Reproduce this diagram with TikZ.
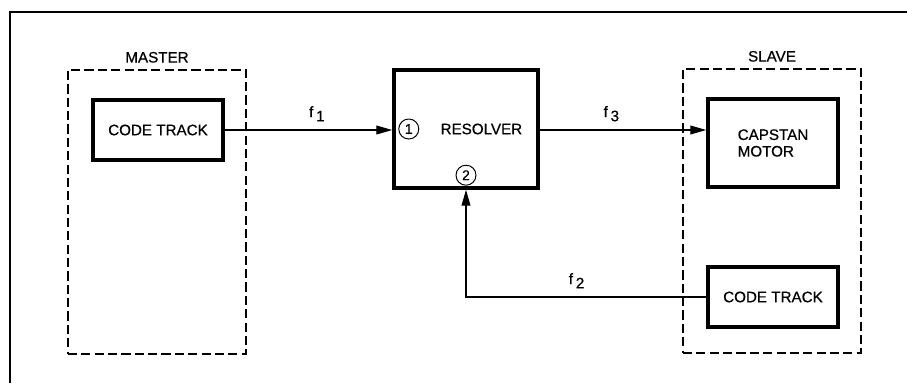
\documentclass[tikz,border=0pt]{standalone}
\usepackage{fontspec}
\setmainfont{Liberation Sans}[FakeBold=0.6]
\usetikzlibrary{positioning, arrows.meta}

\begin{document}
\begin{tikzpicture}[x=0.025cm, y=-0.025cm, node distance=0.1cm,
  font=\fontsize{10.8}{11.8}\selectfont]

  \tikzstyle{unitbox} = [
    draw, line width=1.4pt,
    dash pattern=on 6.5pt off 3pt,
    minimum width=4.45cm, minimum height=7.1cm
  ]
  \tikzstyle{blockbox} = [
    draw, line width=2.4pt,
    minimum width=3.25cm,
    align=left, inner sep=0pt
  ]
  \tikzstyle{portnum} = [
    draw, circle, line width=0.7pt,
    minimum size=0.5cm, inner sep=0pt,
    font=\fontsize{10}{10}\selectfont
  ]
  \tikzstyle{signal} = [
    line width=0.9pt,
    -{Triangle[length=4mm, width=2.2mm]}
  ]
  \tikzstyle{flabel} = [inner sep=0pt]

  \useasboundingbox (0,0) rectangle (907,383);

  % open frame round the figure
  \draw[line width=0.9pt] (10,383) -- (10,12) -- (907,12);

  % master side
  \node[unitbox] (master) at (157,212) {};
  \node[flabel, above=0.15cm of master] (mlabel) {MASTER};
  \node[blockbox, minimum height=1.5cm] (mtrack) at (158,130) {CODE TRACK};

  % resolver
  \node[blockbox, minimum width=3.6cm, minimum height=2.95cm] (resolver) at (466,129) {};
  \node[flabel, right=1.2cm of resolver.west] (rlabel) {RESOLVER};
  \node[portnum, right=0.15cm of resolver.west] (p1) {1};
  \node[portnum, above=0.1cm of resolver.south] (p2) {2};

  % slave side
  \node[unitbox] (slave) at (772,211) {};
  \node[flabel, above=0.15cm of slave] (slabel) {SLAVE};
  \node[blockbox, minimum height=2.2cm] (motor) at (773,143) {CAPSTAN\\MOTOR};
  \node[blockbox, minimum height=1.5cm] (strack) at (773,297) {CODE TRACK};

  % signals
  \draw[signal] (mtrack.east) -- (mtrack.east -| resolver.west)
    node[flabel, pos=0.55, above=0.2cm] (f1) {f\kern2pt\raisebox{-3pt}{1}};
  \draw[signal] (resolver.east |- mtrack.east) -- (mtrack.east -| motor.west)
    node[flabel, pos=0.43, above=0.2cm] (f3) {f\kern2pt\raisebox{-3pt}{3}};
  \draw[signal] (strack.west) -| (resolver.south)
    node[flabel, pos=0.27, above=0.2cm] (f2) {f\kern2pt\raisebox{-3pt}{2}};

\end{tikzpicture}
\end{document}
